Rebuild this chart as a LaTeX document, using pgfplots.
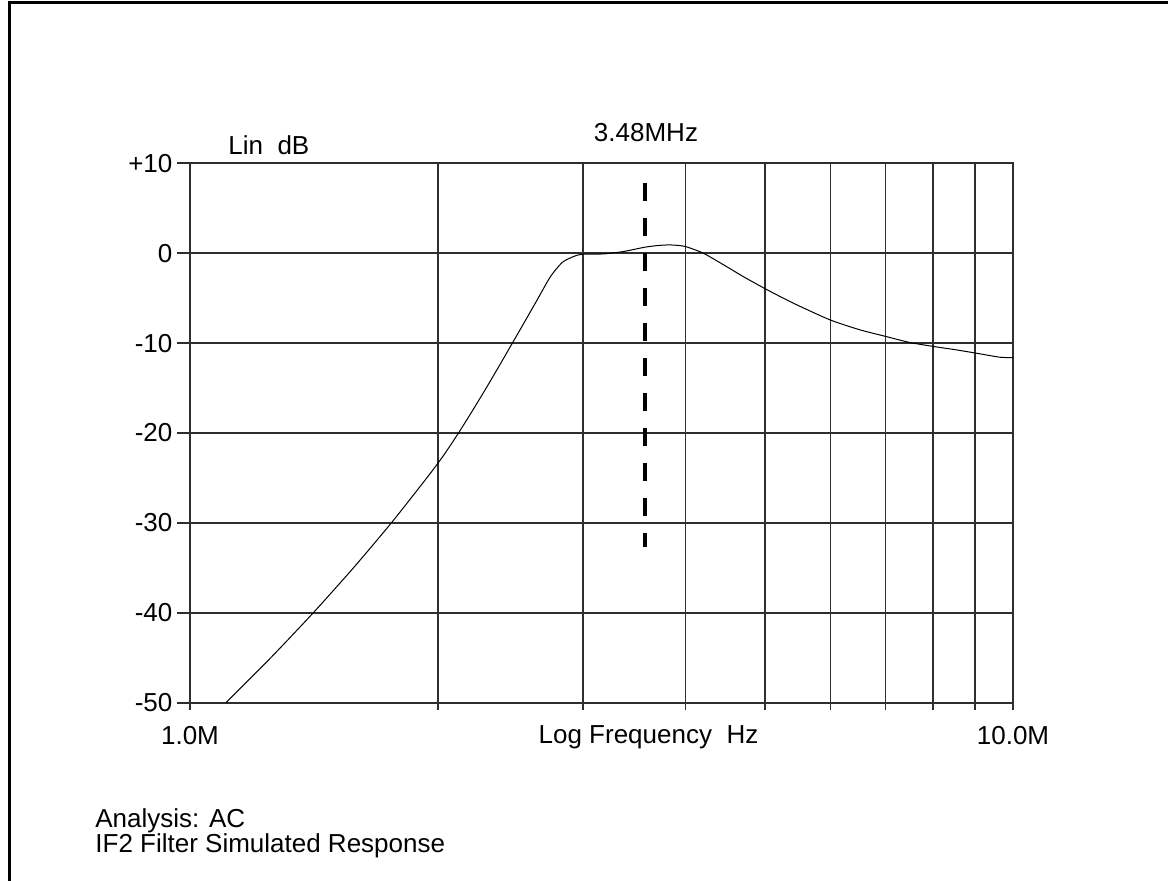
\documentclass[border=0pt]{standalone}
\usepackage{pgfplots}
\pgfplotsset{compat=1.18}
\usepackage{fontspec}
\setmainfont{Liberation Sans}
\definecolor{gridc}{HTML}{2E2E2E}
\begin{document}
\begin{tikzpicture}
\fontsize{13pt}{15pt}\selectfont
\path[use as bounding box] (-95pt,-89.15pt) rectangle (489pt,351.35pt);
\draw[line width=1.5pt,black] (-90.25pt,-89.15pt) -- (-90.25pt,349.85pt) -- (489pt,349.85pt);
\begin{axis}[
  at={(0,0)}, anchor=south west,
  scale only axis, width=411.5pt, height=269.7pt,
  xmode=log, log basis x=10,
  xmin=1, xmax=10, ymin=-50, ymax=10,
  xtick={1,2,3,4,5,6,7,8,9,10},
  xticklabels={1.0M,,,,,,,,,10.0M},
  ytick={-50,-40,-30,-20,-10,0,10},
  yticklabels={-50,-40,-30,-20,-10,0,+10},
  minor xtick={}, minor ytick={},
  grid=major,
  grid style={gridc, line width=0.9pt},
  axis line style={gridc, line width=0.9pt},
  tick style={gridc, line width=0.9pt},
  tick align=outside, tick pos=left,
  xtick style={/pgfplots/major tick length=3.5pt},
  ytick style={/pgfplots/major tick length=6.5pt},
  tick label style={font=\fontsize{13pt}{15pt}\selectfont, black},
  xticklabel style={yshift=-3pt},
  clip=false,
]
\addplot[black, line width=0.5pt, smooth, tension=0.4] coordinates {
(1.106,-50.0) (1.2536,-45.0) (1.4119,-40.0) (1.5799,-35.0) (1.7566,-30.0)
(1.9398,-25.0) (2.0327,-22.5) (2.1198,-20.0) (2.2048,-17.5) (2.2905,-15.0) (2.3765,-12.5)
(2.4645,-10.0) (2.5591,-7.4) (2.6413,-5.2) (2.7419,-2.6) (2.8356,-1.0)
(2.9290,-0.35) (2.995,-0.12) (3.180,-0.08) (3.360,0.18) (3.572,0.67)
(3.700,0.85) (3.813,0.92) (3.900,0.88) (4.003,0.73) (4.205,0.0)
(4.487,-1.49) (4.701,-2.6) (5.010,-4.0) (5.409,-5.56) (5.995,-7.42)
(6.520,-8.53) (7.020,-9.28) (7.497,-9.94) (8.026,-10.39) (8.543,-10.76)
(9.020,-11.12) (9.640,-11.57) (10.0,-11.61)
};
\addplot[black, line width=2pt, dash pattern=on 9pt off 8.5pt] coordinates {(3.57,7.8) (3.57,-32.7)};
\end{axis}
\node[anchor=west, inner sep=0pt] at (19pt,278.85pt) {Lin\ \ dB};
\node at (228pt,284.85pt) {3.48MHz};
\node at (229.25pt,-17.15pt) {Log Frequency\ \ Hz};
\node[anchor=west, inner sep=0pt] at (-47.5pt,-58.9pt) {Analysis: AC};
\node[anchor=west, inner sep=0pt] at (-47.5pt,-71.4pt) {IF2 Filter Simulated Response};
\end{tikzpicture}
\end{document}
